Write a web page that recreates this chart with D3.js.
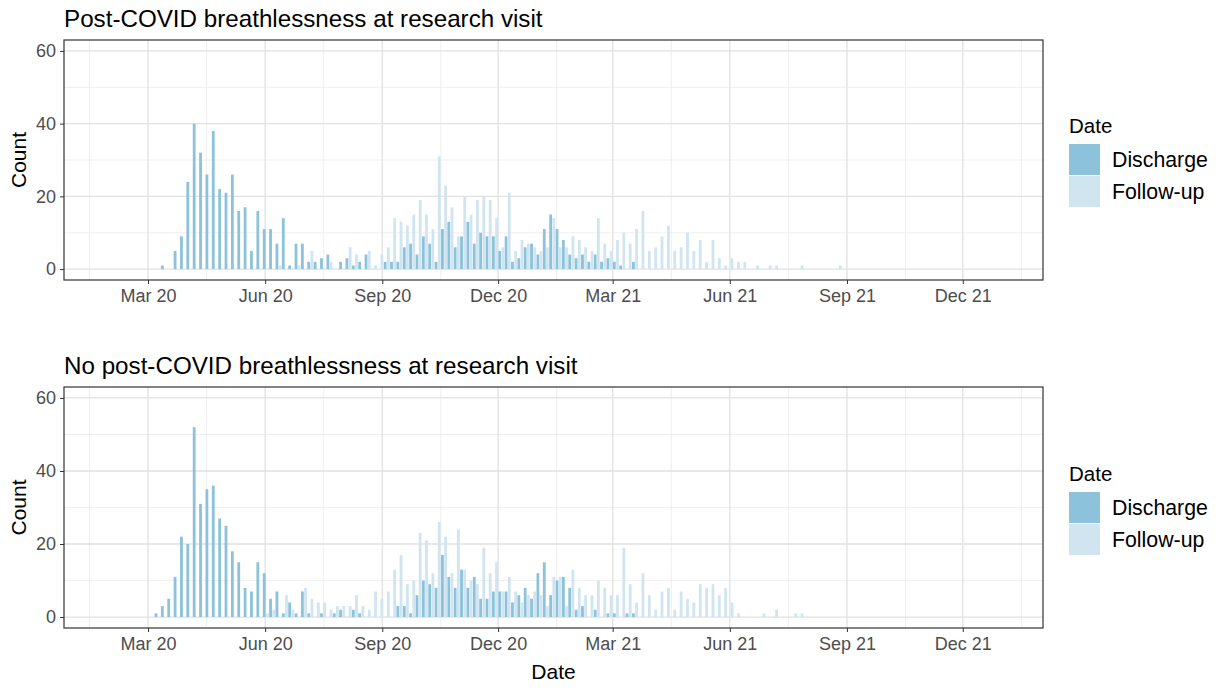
<!DOCTYPE html>
<html>
<head>
<meta charset="utf-8">
<script src="https://cdn.jsdelivr.net/npm/d3@7"></script>
<style>
  html, body { margin: 0; padding: 0; background: #ffffff; }
  svg { display: block; font-family: "Liberation Sans", Arial, sans-serif; }
</style>
</head>
<body>
<svg id="chart" width="1218" height="688"></svg>
<script>
// Five-day bins, first bin starting 6 Mar 2020
const firstBinStart = new Date(2020, 2, 6);
const binDays = 5;

// Post-COVID breathlessness: counts per bin
const topDischarge = [0, 1, 0, 5, 9, 24, 40, 32, 26, 38, 22, 21, 26, 16, 17, 5, 16, 11, 11, 7, 14, 1, 7, 7, 2, 2, 3, 4, 0, 2, 3, 1, 2, 4, 0, 0, 2, 2, 2, 6, 7, 4, 9, 7, 2, 11, 13, 6, 9, 13, 7, 10, 9, 9, 5, 9, 2, 3, 6, 7, 4, 11, 15, 11, 8, 4, 3, 4, 2, 4, 2, 3, 2, 1, 0, 2, 0, 0, 0, 0, 0, 0, 0, 0, 0, 0, 0, 0, 0, 0, 0, 0, 0, 0, 0, 0, 0, 0, 0, 0, 0, 0, 0, 0, 0, 0, 0, 0];
const topFollowUp = [0, 0, 0, 0, 0, 0, 0, 0, 0, 0, 0, 0, 0, 0, 0, 0, 0, 0, 0, 1, 0, 0, 1, 0, 5, 0, 0, 2, 0, 0, 6, 4, 0, 5, 1, 4, 6, 14, 13, 12, 15, 19, 15, 11, 31, 23, 17, 9, 20, 15, 19, 20, 19, 14, 6, 21, 5, 8, 7, 6, 5, 6, 14, 6, 6, 9, 8, 6, 5, 14, 7, 5, 8, 10, 7, 11, 16, 5, 6, 9, 12, 5, 6, 10, 5, 8, 2, 8, 3, 1, 3, 2, 2, 0, 1, 0, 1, 1, 0, 0, 0, 1, 0, 0, 0, 0, 0, 1];

// No post-COVID breathlessness: counts per bin
const bottomDischarge = [1, 3, 5, 11, 22, 20, 52, 31, 35, 36, 27, 25, 18, 15, 8, 7, 15, 12, 5, 7, 1, 4, 1, 7, 1, 0, 1, 0, 1, 2, 0, 2, 1, 0, 0, 0, 0, 0, 3, 3, 1, 6, 10, 9, 8, 17, 11, 8, 13, 8, 11, 5, 5, 7, 7, 7, 4, 6, 8, 5, 12, 15, 6, 10, 11, 8, 2, 3, 0, 2, 0, 1, 1, 0, 1, 1, 0, 0, 0, 0, 0, 0, 0, 0, 0, 0, 0, 0, 0, 0, 0, 0, 0, 0, 0, 0, 0, 0, 0, 0, 0, 0, 0, 0, 0, 0, 0, 0];
const bottomFollowUp = [0, 0, 0, 0, 0, 0, 0, 0, 0, 0, 0, 0, 0, 0, 0, 0, 0, 1, 2, 0, 6, 2, 0, 8, 5, 4, 4, 2, 3, 3, 3, 6, 3, 2, 7, 5, 7, 13, 17, 9, 10, 23, 21, 12, 26, 22, 12, 24, 13, 10, 9, 19, 12, 15, 7, 11, 7, 4, 6, 7, 6, 3, 11, 11, 3, 13, 8, 6, 6, 10, 8, 6, 6, 19, 9, 4, 12, 6, 2, 7, 8, 2, 7, 5, 4, 9, 8, 9, 6, 8, 4, 1, 0, 0, 0, 1, 0, 2, 0, 0, 1, 1, 0, 0, 0, 0, 0, 0];

const panelTitles = ["Post-COVID breathlessness at research visit", "No post-COVID breathlessness at research visit"];
const seriesNames = ["Discharge", "Follow-up"];
const seriesColors = ["#8cc2db", "#d1e5f0"];
const yTicks = [0, 20, 40, 60];
const yMinor = [10, 30, 50];
const xTickDates = [new Date(2020, 2, 1), new Date(2020, 5, 1), new Date(2020, 8, 1), new Date(2020, 11, 1),
                    new Date(2021, 2, 1), new Date(2021, 5, 1), new Date(2021, 8, 1), new Date(2021, 11, 1)];
const xTickLabels = ["Mar 20", "Jun 20", "Sep 20", "Dec 20", "Mar 21", "Jun 21", "Sep 21", "Dec 21"];

const binStarts = d3.range(topDischarge.length).map(i => d3.timeDay.offset(firstBinStart, i * binDays));

const svg = d3.select("#chart");
const left = 64, right = 1043;
const x = d3.scaleTime()
  .domain([new Date(2019, 11, 26), new Date(2022, 1, 2)])
  .range([left, right]);

// Minor x breaks sit halfway between the labelled breaks (plus one on each side)
const xPix = xTickDates.map(d => x(d));
const step = xPix[1] - xPix[0];
const xMinorPix = [xPix[0] - step / 2].concat(xPix.map(p => p + step / 2));

const panels = [
  { title: panelTitles[0], top: 40, bottom: 280, discharge: topDischarge, followUp: topFollowUp, titleY: 27, legendY: 114 },
  { title: panelTitles[1], top: 387, bottom: 628, discharge: bottomDischarge, followUp: bottomFollowUp, titleY: 374, legendY: 462 }
];

panels.forEach(p => {
  const g = svg.append("g");
  const h = p.bottom - p.top;
  const y = d3.scaleLinear().domain([-3, 63]).range([p.bottom, p.top]);

  // Panel title
  g.append("text").attr("x", left).attr("y", p.titleY)
    .attr("font-size", 24.2).attr("fill", "#000").text(p.title);

  // Grid
  const grid = g.append("g");
  grid.selectAll(".ymin").data(yMinor).join("line")
    .attr("x1", left).attr("x2", right)
    .attr("y1", d => y(d)).attr("y2", d => y(d))
    .attr("stroke", "#ebebeb").attr("stroke-width", 0.8);
  grid.selectAll(".xmin").data(xMinorPix.filter(v => v > left && v < right)).join("line")
    .attr("x1", d => d).attr("x2", d => d)
    .attr("y1", p.top).attr("y2", p.bottom)
    .attr("stroke", "#ebebeb").attr("stroke-width", 0.8);
  grid.selectAll(".ymaj").data(yTicks).join("line")
    .attr("x1", left).attr("x2", right)
    .attr("y1", d => y(d)).attr("y2", d => y(d))
    .attr("stroke", "#e1e1e1").attr("stroke-width", 1.3);
  grid.selectAll(".xmaj").data(xTickDates).join("line")
    .attr("x1", d => x(d)).attr("x2", d => x(d))
    .attr("y1", p.top).attr("y2", p.bottom)
    .attr("stroke", "#e1e1e1").attr("stroke-width", 1.3);

  // Bars: discharge and follow-up side by side within each bin
  const bars = g.append("g");
  const rows = binStarts.map((d, i) => ({ start: d, dis: p.discharge[i], fol: p.followUp[i] }));
  const half = d => (x(d3.timeDay.offset(d, binDays)) - x(d)) / 2;
  const bw = d => half(d) * 0.88;
  bars.selectAll(".dis").data(rows.filter(r => r.dis > 0)).join("rect")
    .attr("x", r => x(r.start) + (half(r.start) - bw(r.start)) / 2)
    .attr("width", r => bw(r.start))
    .attr("y", r => y(r.dis)).attr("height", r => y(0) - y(r.dis))
    .attr("fill", seriesColors[0]);
  bars.selectAll(".fol").data(rows.filter(r => r.fol > 0)).join("rect")
    .attr("x", r => x(r.start) + half(r.start) + (half(r.start) - bw(r.start)) / 2)
    .attr("width", r => bw(r.start))
    .attr("y", r => y(r.fol)).attr("height", r => y(0) - y(r.fol))
    .attr("fill", seriesColors[1]);

  // Panel border
  g.append("rect").attr("x", left).attr("y", p.top)
    .attr("width", right - left).attr("height", h)
    .attr("fill", "none").attr("stroke", "#333").attr("stroke-width", 1.2);

  // Axes
  const yAxis = d3.axisLeft(y).tickValues(yTicks).tickSize(4).tickPadding(4);
  const ya = g.append("g").attr("transform", `translate(${left},0)`).call(yAxis);
  ya.select(".domain").remove();
  ya.selectAll("line").attr("stroke", "#333");
  ya.selectAll("text").attr("font-size", 18).attr("fill", "#4d4d4d")
    .attr("font-family", "'Liberation Sans', Arial, sans-serif");

  const xAxis = d3.axisBottom(x).tickValues(xTickDates)
    .tickFormat((d, i) => xTickLabels[i]).tickSize(4).tickPadding(5);
  const xa = g.append("g").attr("transform", `translate(0,${p.bottom})`).call(xAxis);
  xa.select(".domain").remove();
  xa.selectAll("line").attr("stroke", "#333");
  xa.selectAll("text").attr("font-size", 18).attr("fill", "#4d4d4d")
    .attr("font-family", "'Liberation Sans', Arial, sans-serif");

  // Y axis title
  g.append("text")
    .attr("transform", `translate(26,${(p.top + p.bottom) / 2}) rotate(-90)`)
    .attr("text-anchor", "middle").attr("font-size", 21).attr("fill", "#000").text("Count");

  // Legend
  const lg = g.append("g").attr("transform", `translate(1069,${p.legendY})`);
  lg.append("text").attr("x", 0).attr("y", 19).attr("font-size", 20.5).attr("fill", "#000").text("Date");
  seriesNames.forEach((name, i) => {
    const ky = 30 + i * 32;
    lg.append("rect").attr("x", 0).attr("y", ky).attr("width", 31).attr("height", 31)
      .attr("fill", seriesColors[i]);
    lg.append("text").attr("x", 43).attr("y", ky + 15.5).attr("dy", "0.35em")
      .attr("font-size", 21.3).attr("fill", "#000").text(name);
  });
});

// Shared x axis title
svg.append("text").attr("x", (left + right) / 2).attr("y", 679)
  .attr("text-anchor", "middle").attr("font-size", 21).attr("fill", "#000").text("Date");
</script>
</body>
</html>
